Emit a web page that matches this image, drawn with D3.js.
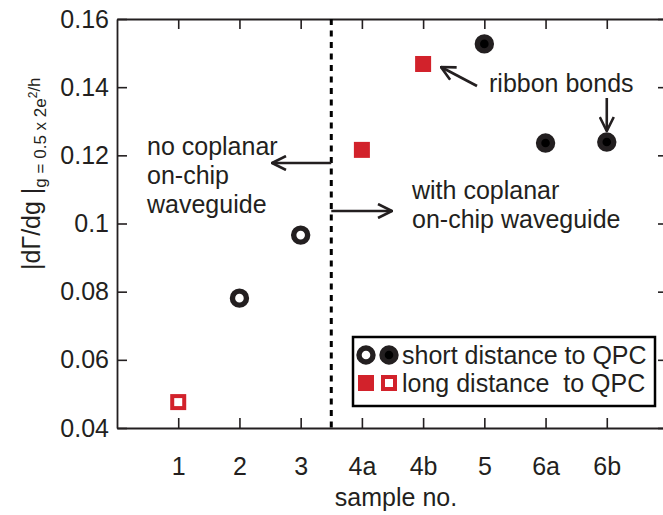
<!DOCTYPE html>
<html>
<head>
<meta charset="utf-8">
<script src="https://cdn.jsdelivr.net/npm/d3@7"></script>
<style>
  body { margin: 0; background: #fff; }
  svg { display: block; font-family: "Liberation Sans", Arial, sans-serif; }
</style>
</head>
<body>
<div id="chart"></div>
<script>
// data
const samples = ['1', '2', '3', '4a', '4b', '5', '6a', '6b'];
const values = [0.0476, 0.0781, 0.0966, 0.1216, 0.1468, 0.1527, 0.1236, 0.1239];
const distance = ['long', 'short', 'short', 'long', 'long', 'short', 'short', 'short'];
const filled = [false, false, false, true, true, true, true, true];
const yTicks = [0.04, 0.06, 0.08, 0.1, 0.12, 0.14, 0.16];
const yTickLabels = ['0.04', '0.06', '0.08', '0.1', '0.12', '0.14', '0.16'];
const legendLabels = ['short distance to QPC', 'long distance\u00a0 to QPC'];

const W = 663, H = 515;
const plotL = 117, plotR = 668, plotT = 19, plotB = 428;
const ink = '#231f20', red = '#d2222b';
const fs = 25;

const svg = d3.select('#chart').append('svg')
    .attr('width', W).attr('height', H);

const x = d3.scalePoint().domain(samples).range([plotL, plotR]).padding(1);
const y = d3.scaleLinear().domain([0.04, 0.16]).range([plotB, plotT]);

svg.append('defs').append('marker')
    .attr('id', 'head')
    .attr('viewBox', '0 0 16 16')
    .attr('refX', 15).attr('refY', 8)
    .attr('markerWidth', 16).attr('markerHeight', 16)
    .attr('markerUnits', 'userSpaceOnUse')
    .attr('orient', 'auto')
    .append('path')
    .attr('d', 'M 1 1 L 15 8 L 1 15')
    .attr('fill', 'none')
    .attr('stroke', ink)
    .attr('stroke-width', 2.6);

// Axes, ticks inward like matlab
const bottomAxis = svg.append('g')
    .attr('transform', `translate(0, ${plotB})`)
    .call(d3.axisBottom(x).tickSizeInner(-10).tickSizeOuter(0).tickPadding(29));
const topAxis = svg.append('g')
    .attr('transform', `translate(0, ${plotT})`)
    .call(d3.axisTop(x).tickSizeInner(-10).tickSizeOuter(0).tickFormat(''));
const leftAxis = svg.append('g')
    .attr('transform', `translate(${plotL}, 0)`)
    .call(d3.axisLeft(y).tickValues(yTicks).tickSizeInner(-10).tickSizeOuter(0)
        .tickPadding(8).tickFormat((d, i) => yTickLabels[i]));
const rightAxis = svg.append('g')
    .attr('transform', `translate(${plotR}, 0)`)
    .call(d3.axisRight(y).tickValues(yTicks).tickSizeInner(-10).tickSizeOuter(0).tickFormat(''));

[bottomAxis, topAxis, leftAxis, rightAxis].forEach(g => {
    g.select('.domain').attr('stroke', ink).attr('stroke-width', 1.8);
    g.selectAll('.tick line').attr('stroke', ink).attr('stroke-width', 1.6);
    g.selectAll('.tick text')
        .attr('fill', ink)
        .style('font-size', fs + 'px')
        .style('font-family', '"Liberation Sans", Arial, sans-serif');
});

// x label
svg.append('text')
    .attr('x', 396).attr('y', 506)
    .attr('text-anchor', 'middle')
    .attr('fill', ink)
    .style('font-size', fs + 'px')
    .text('sample no.');

// y label with subscript
const yl = svg.append('text')
    .attr('transform', 'translate(40, 270) rotate(-90)')
    .attr('fill', ink)
    .style('font-size', fs + 'px');
yl.append('tspan').text('|d\u0393/dg |');
yl.append('tspan').attr('dy', 6).style('font-size', '17px').text('g = 0.5 x 2e');
yl.append('tspan').attr('dy', -9).style('font-size', '12px').text('2');
yl.append('tspan').attr('dy', 3).style('font-size', '17px').text('/h');

// divider
const xDiv = (x('3') + x('4a')) / 2;
svg.append('line')
    .attr('x1', xDiv).attr('x2', xDiv)
    .attr('y1', plotT).attr('y2', plotB)
    .attr('stroke', '#000')
    .attr('stroke-width', 3)
    .attr('stroke-dasharray', '6 5.5');

// annotation arrows
const arrows = [
    [xDiv, 163, 272, 163],
    [xDiv, 211, 392, 211],
    [477, 86, 441, 67],
    [x('6b'), 98, x('6b'), 131]
];
svg.selectAll('.arrow').data(arrows).join('line')
    .attr('class', 'arrow')
    .attr('x1', d => d[0]).attr('y1', d => d[1])
    .attr('x2', d => d[2]).attr('y2', d => d[3])
    .attr('stroke', ink)
    .attr('stroke-width', 2.6)
    .attr('marker-end', 'url(#head)');

function block(xp, yp, lines) {
    const t = svg.append('text').attr('fill', ink).style('font-size', fs + 'px');
    lines.forEach((s, i) => {
        t.append('tspan').attr('x', xp).attr('y', yp + i * 29).text(s);
    });
}
block(147, 155, ['no coplanar', 'on-chip', 'waveguide']);
block(412, 199, ['with coplanar', 'on-chip waveguide']);
block(489, 92, ['ribbon bonds']);

// markers
function drawMarker(g, kind, isFilled, cx, cy) {
    if (kind === 'short') {
        g.append('circle')
            .attr('cx', cx).attr('cy', cy).attr('r', 7)
            .attr('fill', isFilled ? '#000' : '#fff')
            .attr('stroke', ink)
            .attr('stroke-width', 5.4);
    } else if (isFilled) {
        g.append('rect')
            .attr('x', cx - 8).attr('y', cy - 8)
            .attr('width', 16).attr('height', 16)
            .attr('fill', red);
    } else {
        g.append('rect')
            .attr('x', cx - 6).attr('y', cy - 6)
            .attr('width', 12).attr('height', 12)
            .attr('fill', '#fff')
            .attr('stroke', red)
            .attr('stroke-width', 4);
    }
}

const pts = svg.append('g');
samples.forEach((s, i) => {
    drawMarker(pts, distance[i], filled[i], x(s), y(values[i]));
});

// legend
const lg = svg.append('g');
lg.append('rect')
    .attr('x', 353).attr('y', 337)
    .attr('width', 302).attr('height', 69)
    .attr('fill', '#fff')
    .attr('stroke', '#000')
    .attr('stroke-width', 2.5);
drawMarker(lg, 'short', false, 366, 355);
drawMarker(lg, 'short', true, 389, 355);
drawMarker(lg, 'long', true, 366, 383);
drawMarker(lg, 'long', false, 389, 383);
legendLabels.forEach((s, i) => {
    lg.append('text')
        .attr('x', 402).attr('y', 364 + i * 28)
        .attr('fill', ink)
        .style('font-size', fs + 'px')
        .text(s);
});
</script>
</body>
</html>
